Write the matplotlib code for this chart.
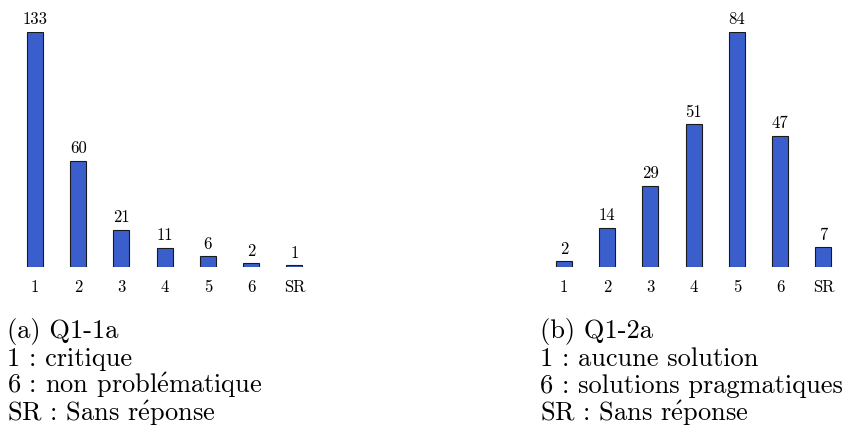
import matplotlib
matplotlib.use("Agg")
import matplotlib.pyplot as plt

plt.rcParams['font.family'] = ['cmr10', 'DejaVu Serif']
plt.rcParams['mathtext.fontset'] = 'cm'
plt.rcParams['axes.formatter.use_mathtext'] = True

categories = ["1", "2", "3", "4", "5", "6", "SR"]
q1_1a = [133, 60, 21, 11, 6, 2, 1]
q1_2a = [2, 14, 29, 51, 84, 47, 7]

# cmr10 has no accented letters, so the é goes through mathtext
E_ACUTE = r"$\acute{\mathrm{e}}$"
captions_a = ["(a) Q1-1a", "1 : critique", "6 : non probl" + E_ACUTE + "matique",
              "SR : Sans r" + E_ACUTE + "ponse"]
captions_b = ["(b) Q1-2a", "1 : aucune solution", "6 : solutions pragmatiques",
              "SR : Sans r" + E_ACUTE + "ponse"]

bar_color = "#3a5fcd"

W, H = 843, 436
fig = plt.figure(figsize=(W / 100, H / 100), dpi=100)

unit = 43.25  # pixels between bar centres
x0 = 0.6
span = 7.2 * unit


def draw(left_px, values, captions, caption_px):
    ax = fig.add_axes([left_px / W, (H - 267) / H, span / W, 235 / H])
    xs = range(len(values))
    bars = ax.bar(xs, values, width=0.37, color=bar_color, edgecolor="#1a1a1a", linewidth=0.8)
    for b, v in zip(bars, values):
        ax.text(b.get_x() + b.get_width() / 2, v + max(values) * 0.02, str(v),
                ha="center", va="bottom", fontsize=12)
    ax.set_xlim(-x0, len(values) - 1 + x0)
    ax.set_ylim(0, max(values))
    ax.set_xticks(list(xs))
    ax.set_xticklabels(categories, fontsize=12)
    ax.tick_params(axis="x", length=0, pad=9)
    ax.set_yticks([])
    for s in ax.spines.values():
        s.set_visible(False)
    ax.patch.set_visible(False)
    for i, line in enumerate(captions):
        fig.text(caption_px / W, 1 - (338 + 27.7 * i) / H, line, fontsize=19,
                 ha="left", va="baseline")


draw(9, q1_1a, captions_a, 7)
draw(538, q1_2a, captions_b, 540)

fig.savefig("out.png", dpi=100)
